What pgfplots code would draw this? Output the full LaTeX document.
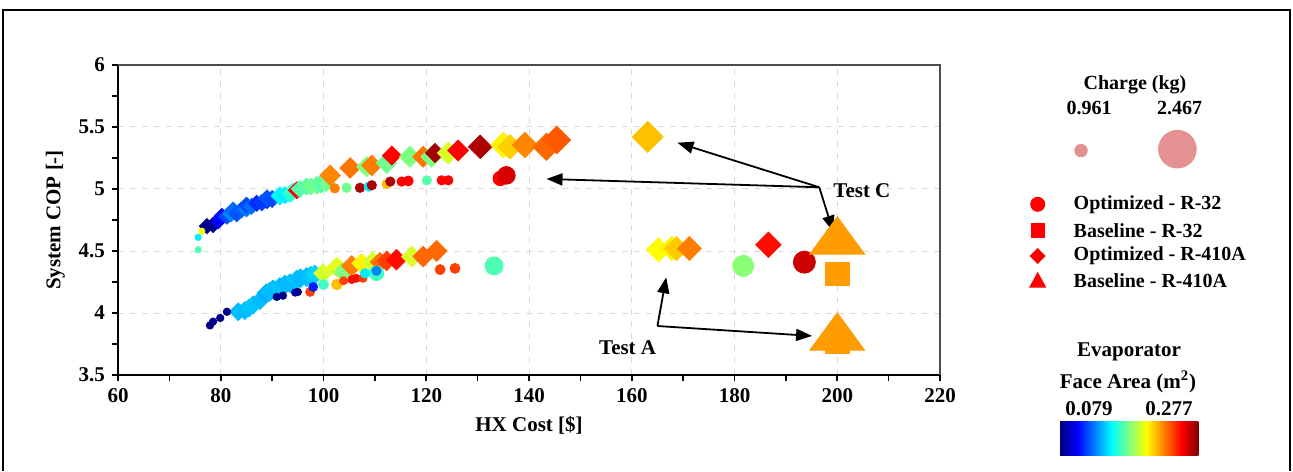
\documentclass[border=0pt]{standalone}
\usepackage{fontspec}
\setmainfont{Liberation Serif}
\usepackage{pgfplots}
\pgfplotsset{compat=1.18}
\usepackage{pgfplotstable}
\usetikzlibrary{arrows.meta}
\definecolor{jetA}{RGB}{0,0,128}
\definecolor{jetB}{RGB}{0,0,255}
\definecolor{jetC}{RGB}{0,255,255}
\definecolor{jetD}{RGB}{255,255,0}
\definecolor{jetE}{RGB}{255,0,0}
\definecolor{jetF}{RGB}{128,0,0}
\definecolor{bubble}{RGB}{229,145,145}
\pgfdeclarehorizontalshading{jetbar}{100bp}{color(0bp)=(jetA); color(25bp)=(jetA); color(31.25bp)=(jetB); color(43.75bp)=(jetC); color(56.25bp)=(jetD); color(68.75bp)=(jetE); color(75bp)=(jetF); color(100bp)=(jetF)}
\newcommand\lf{\bfseries\fontsize{10.5}{12}\selectfont}
\newcommand\lgf{\bfseries\fontsize{10}{12}\selectfont}

% x = HX cost, y = COP, a = evaporator face area (m2), c = charge (kg)
\pgfplotstableread{
x y a c
77.3 4.70 0.081 1.3
78.5 4.71 0.081 1.3
79.5 4.74 0.100 1.3
80.2 4.78 0.106 1.35
81.2 4.78 0.118 1.35
82.0 4.80 0.130 1.35
82.4 4.83 0.125 1.35
83.1 4.80 0.120 1.35
84.0 4.83 0.122 1.35
85.0 4.84 0.128 1.35
85.0 4.87 0.118 1.35
86.0 4.86 0.125 1.35
87.0 4.885 0.112 1.35
88.0 4.89 0.115 1.35
89.0 4.91 0.110 1.4
89.0 4.925 0.120 1.4
90.0 4.92 0.118 1.4
91.5 4.94 0.148 1.4
91.5 4.95 0.152 1.4
92.5 4.95 0.150 1.4
93.5 4.96 0.160 1.4
94.1 4.98 0.165 1.4
94.8 4.99 0.252 1.4
95.4 5.00 0.170 1.4
96.7 5.02 0.170 1.4
97.5 5.02 0.175 1.4
98.7 5.03 0.175 1.45
99.5 5.04 0.170 1.45
100.5 5.05 0.175 1.45
101.3 5.11 0.226 1.6
105.2 5.17 0.230 1.6
108.4 5.18 0.178 1.57
109.4 5.19 0.228 1.6
112.3 5.21 0.175 1.62
113.3 5.27 0.252 1.52
116.8 5.26 0.178 1.62
119.4 5.26 0.230 1.62
121.0 5.26 0.178 1.62
121.7 5.29 0.270 1.52
124.3 5.29 0.195 1.67
126.2 5.31 0.252 1.62
130.5 5.34 0.268 1.77
135.0 5.355 0.205 1.87
136.3 5.34 0.212 1.82
139.2 5.355 0.226 1.87
143.4 5.34 0.232 1.97
145.4 5.395 0.235 2.0
163.1 5.42 0.215 2.18
83.4 4.01 0.140 1.45
84.7 4.02 0.140 1.45
85.5 4.04 0.142 1.45
86.3 4.065 0.142 1.45
87.6 4.10 0.140 1.45
88.9 4.16 0.138 1.5
89.5 4.17 0.140 1.5
90.2 4.19 0.140 1.5
91.5 4.21 0.142 1.5
92.5 4.23 0.140 1.5
93.5 4.24 0.140 1.5
94.8 4.27 0.142 1.5
95.5 4.28 0.140 1.5
96.7 4.29 0.140 1.5
97.5 4.30 0.142 1.5
98.3 4.31 0.145 1.5
99.9 4.32 0.195 1.5
102.6 4.37 0.198 1.55
103.8 4.33 0.178 1.5
105.5 4.38 0.228 1.6
107.4 4.40 0.205 1.55
109.6 4.41 0.195 1.6
111.0 4.41 0.230 1.55
112.3 4.42 0.240 1.55
114.2 4.43 0.250 1.6
117.2 4.455 0.195 1.6
119.4 4.455 0.232 1.6
122.0 4.50 0.232 1.62
165.2 4.51 0.203 1.79
167.8 4.52 0.205 1.79
168.7 4.52 0.213 1.79
171.2 4.52 0.228 1.79
186.6 4.55 0.250 1.87
}\optRfourten

\pgfplotstableread{
x y a c
75.6 4.61 0.150 0.961
75.6 4.51 0.168 0.961
76.3 4.66 0.200 0.961
102.2 5.005 0.228 1.2
104.5 5.01 0.175 1.2
107.1 5.01 0.268 1.2
108.8 5.02 0.150 1.2
109.4 5.03 0.268 1.2
112.3 5.04 0.216 1.2
113.0 5.06 0.268 1.2
115.2 5.06 0.252 1.2
116.5 5.065 0.252 1.25
120.1 5.07 0.170 1.2
123.0 5.07 0.252 1.2
124.3 5.07 0.252 1.2
134.4 5.085 0.252 1.6
135.6 5.11 0.260 1.85
77.9 3.90 0.081 1.05
78.5 3.93 0.081 1.05
79.9 3.96 0.081 1.05
81.2 4.01 0.081 1.05
90.9 4.13 0.081 1.05
92.1 4.14 0.081 1.05
94.5 4.165 0.085 1.05
95.0 4.17 0.081 1.05
97.4 4.17 0.240 1.17
98.0 4.21 0.110 1.17
100.0 4.23 0.165 1.25
102.6 4.23 0.215 1.3
103.9 4.26 0.240 1.1
105.5 4.27 0.250 1.1
106.4 4.28 0.250 1.1
107.7 4.28 0.240 1.1
110.3 4.32 0.165 1.6
108.1 4.32 0.150 1.2
110.3 4.34 0.130 1.2
122.7 4.35 0.240 1.25
125.6 4.36 0.240 1.25
133.2 4.38 0.168 1.875
181.7 4.38 0.180 2.11
193.6 4.41 0.262 2.19
}\optRthirtytwo

\pgfplotstableread{
x y a c
200 4.315 0.222 2.3
200 3.765 0.222 2.3
}\baseRthirtytwo

\pgfplotstableread{
x y a c
200 4.575 0.222 2.42
200 3.80 0.222 2.42
}\baseRfourten

\pgfplotsset{
  myscat/.style={scatter, only marks, scatter src=explicit,
    scatter/use mapped color={draw=mapped color, fill=mapped color},
    visualization depends on={\thisrow{c} \as \charge},
    scatter/@pre marker code/.append style={/tikz/mark size={#1*(3.2*\charge-1.5)}}},
}

\begin{document}
\begin{tikzpicture}
\useasboundingbox (0,0) rectangle (646.5pt,235.5pt);
\draw[line width=1pt] (1.5pt,0) -- (1.5pt,230.5pt) -- (645pt,230.5pt) -- (645pt,0);
\begin{axis}[
  at={(59pt,48pt)}, anchor=south west,
  width=411pt, height=155pt, scale only axis,
  xmin=60, xmax=220, ymin=3.5, ymax=6,
  xtick={60,80,...,220}, ytick={3.5,4,...,6},
  minor x tick num=1, minor y tick num=1,
  tick align=outside, major tick length=3pt, minor tick length=3pt,
  tick style={black, line width=0.8pt},
  axis x line*=bottom, axis y line*=left,
  axis line style={-, line width=1pt},
  grid=major, major grid style={dashed, gray!30, line width=0.5pt},
  xlabel={HX Cost [\$]}, ylabel={System COP [-]},
  ticklabel style={font=\lf},
  label style={font=\lf},
  /pgf/number format/assume math mode=true,
  colormap/jet, point meta min=0.079, point meta max=0.277,
  clip=false,
]
\draw[gray!60!black, line width=0.6pt] (rel axis cs:0,1) -- (rel axis cs:1,1) -- (rel axis cs:1,0);
\addplot[myscat=1, mark=square*, mark options={rotate=45}] table[x=x,y=y,meta=a] {\optRfourten};
\addplot[myscat=1, mark=*] table[x=x,y=y,meta=a] {\optRthirtytwo};
\addplot[myscat=1, mark=square*] table[x=x,y=y,meta=a] {\baseRthirtytwo};
\addplot[myscat=2, mark=triangle*, mark options={xscale=1.27}] table[x=x,y=y,meta=a] {\baseRfourten};

\begin{scope}[line width=0.9pt, -{Triangle[length=8pt,width=6pt]}]
\draw (axis cs:196.5,5.014) -- (axis cs:168.9,5.373);
\draw (axis cs:196.5,5.014) -- (axis cs:143.4,5.081);
\draw (axis cs:196.5,5.014) -- (axis cs:199.2,4.656);
\draw (axis cs:165,3.895) -- (axis cs:166.7,4.288);
\draw (axis cs:165,3.895) -- (axis cs:195.1,3.815);
\end{scope}
\node[font=\lf] at (axis cs:204.8,4.99) {Test C};
\node[font=\lf] at (axis cs:159.2,3.72) {Test A};
\end{axis}

% charge bubble legend
\node[font=\lgf] at (567.5pt,193pt) {Charge (kg)};
\node[font=\lgf] at (544.5pt,181.5pt) {0.961};
\node[font=\lgf] at (589.8pt,181.5pt) {2.467};
\fill[bubble] (540.5pt,160.2pt) circle (3.35pt);
\fill[bubble] (588.7pt,160.9pt) circle (9.65pt);

% symbol legend
\fill[red] (518.85pt,133.35pt) circle (3.75pt);
\fill[red] (515.25pt,116.55pt) rectangle (522.45pt,123.75pt);
\fill[red] (518.85pt,111.5pt) -- (522.85pt,107.5pt) -- (518.85pt,103.5pt) -- (514.85pt,107.5pt) -- cycle;
\fill[red] (518.85pt,99.6pt) -- (523.2pt,91.7pt) -- (514.5pt,91.7pt) -- cycle;
\node[font=\lgf, anchor=west, inner sep=0pt] at (536.65pt,133.35pt) {Optimized - R-32};
\node[font=\lgf, anchor=west, inner sep=0pt] at (536.65pt,120.15pt) {Baseline - R-32};
\node[font=\lgf, anchor=west, inner sep=0pt] at (536.65pt,107.5pt) {Optimized - R-410A};
\node[font=\lgf, anchor=west, inner sep=0pt] at (536.65pt,95.15pt) {Baseline - R-410A};

% colour bar
\node[font=\lf] at (564.5pt,59.7pt) {Evaporator};
\node[font=\lf] at (564pt,44.7pt) {Face Area (m\textsuperscript{2})};
\node[font=\lf] at (544.5pt,31.3pt) {0.079};
\node[font=\lf] at (584.5pt,31.3pt) {0.277};
\shade[shading=jetbar] (530pt,8pt) rectangle (599.2pt,24.65pt);
\end{tikzpicture}
\end{document}
